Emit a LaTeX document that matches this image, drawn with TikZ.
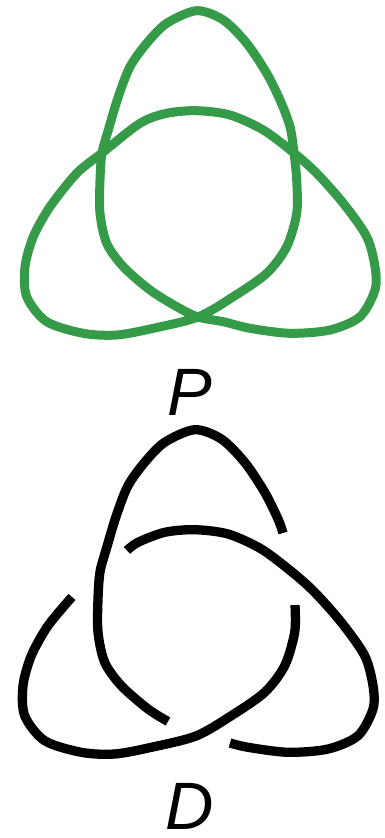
\documentclass[tikz,border=0pt]{standalone}
\usepackage{fontspec}
\setmainfont{Liberation Sans}
\definecolor{knotgreen}{RGB}{53,155,72}
\begin{document}
\begin{tikzpicture}[x=1pt,y=-1pt,
  proj/.style={draw=knotgreen,line width=9pt,line join=round},
  strand/.style={draw=black,line width=9.3pt,line cap=butt},
  lab/.style={font=\fontsize{67}{67}\selectfont\itshape,anchor=base,inner sep=0pt}]
\useasboundingbox (0,0) rectangle (385,838);
% projection P
\draw[proj] plot[smooth cycle,tension=0.5] coordinates {
 (198,317) (176.7,306.7) (150,290) (123.3,266.7) (106.7,243.3) (100,213.3) (100,180)
 (102,153) (108.3,130) (118.3,96.7) (130,66.7) (146.7,43.3) (166.7,23.3) (196.7,10.7)
 (223.3,20) (246.7,43.3) (266.7,73.3) (280,100) (290,126.7) (294,153) (296.7,180)
 (296.7,213.3) (286.7,246.7) (266.7,273.3) (233.3,296.7) (198,317) (153.3,328.3)
 (116.7,335) (83.3,333.3) (46.7,321.7) (26.7,296.7) (25,266.7) (33.3,236.7) (50,206.7)
 (76.7,173.3) (102,153) (140,123.3) (166.7,113.3) (196.7,110.7) (230,115) (263.3,130)
 (294,153) (316.7,173.3) (343.3,203.3) (366.7,236.7) (375,266.7) (375,290) (360,316.7)
 (330,330) (290,333.3) (250,328.3) (223.3,321.7)};
\node[lab] (P) at (190,415) {P};
% diagram D
\begin{scope}[shift={(-2,419)}]
\draw[strand] plot[smooth,tension=0.5] coordinates {
 (232,324) (250,328.3) (290,333.3) (330,330) (360,316.7) (375,290) (375,266.7)
 (366.7,236.7) (343.3,203.3) (316.7,173.3) (294,153) (263.3,130) (230,115)
 (196.7,110.7) (166.7,113.3) (140,123.3) (129,131.5)};
\draw[strand] plot[smooth,tension=0.5] coordinates {
 (74,178) (50,206.7) (33.3,236.7) (25,266.7) (26.7,296.7) (46.7,321.7)
 (83.3,333.3) (116.7,335) (153.3,328.3) (198,317) (233.3,296.7) (266.7,273.3)
 (286.7,246.7) (296.7,213.3) (297,186)};
\draw[strand] plot[smooth,tension=0.5] coordinates {
 (285,114) (280,100) (266.7,73.3) (246.7,43.3) (223.3,20) (196.7,10.7) (166.7,23.3)
 (146.7,43.3) (130,66.7) (118.3,96.7) (108.3,130) (102,153) (100,180) (100,213.3)
 (106.7,243.3) (123.3,266.7) (150,290) (170,302.5)};
\end{scope}
\node[lab] (D) at (190,829) {D};
\end{tikzpicture}
\end{document}
